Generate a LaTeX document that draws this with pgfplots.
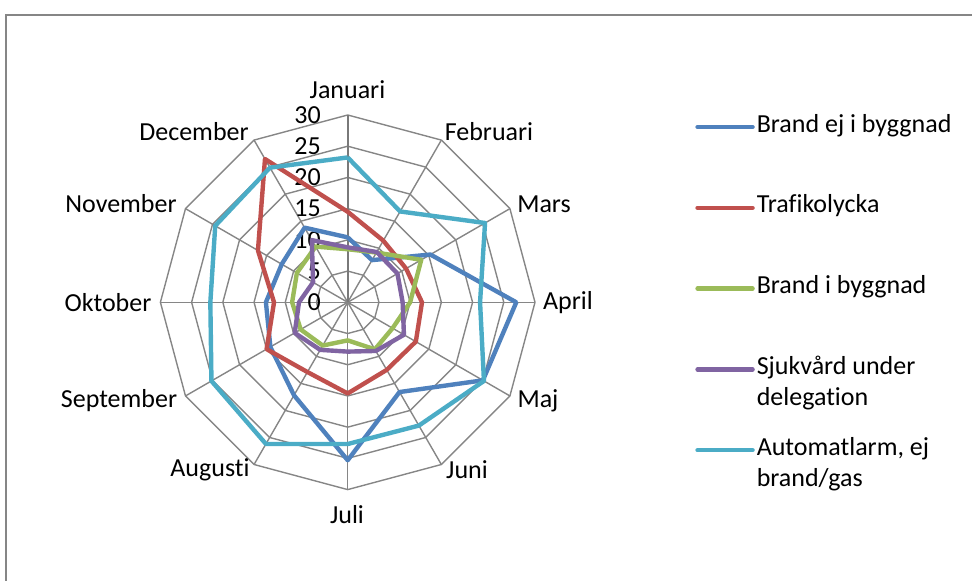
\documentclass[border=0pt]{standalone}
\usepackage{fontspec}
\setmainfont[Ligatures=NoCommon]{Carlito}
\usepackage{pgfplots}
\pgfplotsset{compat=1.18}
\usepgfplotslibrary{polar}
\definecolor{cBlue}{HTML}{4F81BD}
\definecolor{cRed}{HTML}{C0504D}
\definecolor{cGreen}{HTML}{9BBB59}
\definecolor{cPurple}{HTML}{8064A2}
\definecolor{cCyan}{HTML}{4BACC6}
\definecolor{gridgray}{HTML}{868686}
\newcommand{\twoline}[2]{\raisebox{0pt}[\height][0.22em]{\begin{tabular}[t]{@{}l@{}}#1\\#2\end{tabular}}}
\begin{document}
\begin{tikzpicture}[font=\fontsize{13}{15.4}\selectfont]
\draw[color=gridgray, line width=0.75pt] (3pt,-5pt) -- (3pt,283pt) -- (495pt,283pt);
\begin{polaraxis}[
  at={(173.85pt,139.35pt)}, anchor=origin,
  scale only axis, width=187.3pt, height=187.3pt,
  xmin=0, xmax=360, ymin=0, ymax=30,
  hide axis, clip=false,
  every axis plot/.append style={line width=2.2pt, line join=round},
  legend style={at={(1.427,1.001)}, anchor=north west, draw=none, fill=none,
    inner sep=0pt, row sep=28.4pt, nodes={inner sep=1pt, text height=0.75em, text depth=0.25em}},
  legend cell align=left,
  legend image code/.code={\draw[#1,line cap=round] (0pt,0pt) -- (27.5pt,0pt);},
]
% grid rings
\pgfplotsinvokeforeach{5,10,15,20,25,30}{
  \addplot[gridgray, line width=0.7pt, forget plot] coordinates
   {(0,#1)(30,#1)(60,#1)(90,#1)(120,#1)(150,#1)(180,#1)(210,#1)(240,#1)(270,#1)(300,#1)(330,#1)(360,#1)};
}
% spokes
\pgfplotsinvokeforeach{0,30,60,120,150,180,210,240,270,300,330}{
  \addplot[gridgray, line width=0.7pt, forget plot] coordinates {(#1,0)(#1,30)};
}
\addplot[gridgray!90!black, line width=0.9pt, forget plot] coordinates {(90,0)(90,30)};
% radial labels
\pgfplotsinvokeforeach{0,5,10,15,20,25,30}{
  \node[anchor=east, inner sep=0pt, xshift=-13.3pt] at (axis cs:90,#1) {#1};
}
% Brand ej i byggnad
\addplot[cBlue] coordinates {(90,10.4)(60,7.8)(30,15.3)(0,27.0)(330,25.0)(300,16.6)(270,25.3)(240,17.2)(210,14.3)(180,13.1)(150,12.2)(120,13.8)(90,10.4)};
\addlegendentry{Brand ej i byggnad}
% Trafikolycka
\addplot[cRed] coordinates {(90,14.5)(60,11.4)(30,10.8)(0,11.9)(330,12.6)(300,12.5)(270,14.6)(240,12.9)(210,15.0)(180,11.8)(150,16.6)(120,26.5)(90,14.5)};
\addlegendentry{Trafikolycka}
% Brand i byggnad
\addplot[cGreen] coordinates {(90,8.5)(60,9.2)(30,13.6)(0,10.0)(330,8.3)(300,8.7)(270,6.1)(240,8.0)(210,8.7)(180,8.9)(150,9.4)(120,10.3)(90,8.5)};
\addlegendentry{Brand i byggnad}
% Sjukvard under delegation
\addplot[cPurple] coordinates {(90,8.8)(60,9.3)(30,9.2)(0,8.8)(330,10.4)(300,9.0)(270,7.9)(240,8.8)(210,9.8)(180,7.8)(150,6.4)(120,11.5)(90,8.8)};
\addlegendentry{\twoline{Sjukvård under}{delegation}}
% Automatlarm
\addplot[cCyan] coordinates {(90,23.2)(60,16.8)(30,25.4)(0,21.2)(330,25.2)(300,22.8)(270,22.7)(240,26.2)(210,25.2)(180,22.0)(150,24.5)(120,24.9)(90,23.2)};
\addlegendentry{\twoline{Automatlarm, ej}{brand/gas}}
\end{polaraxis}
% category labels
\node at (173.75pt,245.5pt) {Januari};
\node at (244.5pt,224.5pt) {Februari};
\node at (272pt,188.5pt) {Mars};
\node at (284pt,139pt) {April};
\node at (269pt,90pt) {Maj};
\node at (233.5pt,55.5pt) {Juni};
\node at (173.5pt,33pt) {Juli};
\node at (105pt,55.5pt) {Augusti};
\node at (59.5pt,90pt) {September};
\node at (54pt,139pt) {Oktober};
\node at (60.5pt,188.5pt) {November};
\node at (97pt,224.5pt) {December};
\pgfresetboundingbox
\path[use as bounding box] (0,0) rectangle (486pt,290.5pt);
\end{tikzpicture}
\end{document}
